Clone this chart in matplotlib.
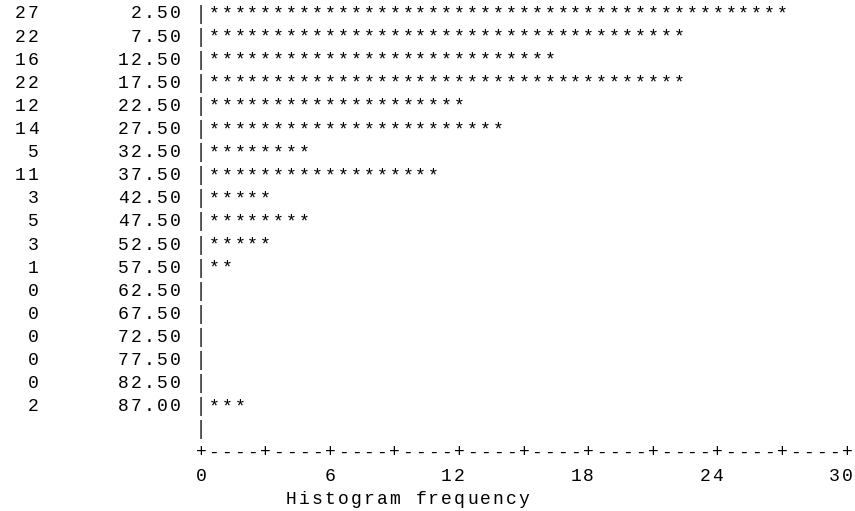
import matplotlib
matplotlib.use("Agg")
import matplotlib.pyplot as plt

# line-printer style histogram
counts = [27, 22, 16, 22, 12, 14, 5, 11, 3, 5, 3, 1, 0, 0, 0, 0, 0, 2]
midpoints = [2.50, 7.50, 12.50, 17.50, 22.50, 27.50, 32.50, 37.50, 42.50,
             47.50, 52.50, 57.50, 62.50, 67.50, 72.50, 77.50, 82.50, 87.00]
ticks = [0, 6, 12, 18, 24, 30]
xlabel = "Histogram frequency"

chars_per_unit = 5 / 3      # "+----" = 3 units
bar_col = 14                # column of the "|" axis
col_px = 12.92              # character pitch in pixels
row_px = 23.1               # line pitch in pixels
x0_px, y0_px = 201, 14      # pixel position of the bar column / first row

W, H = 855, 511
fig = plt.figure(figsize=(W / 100, H / 100), dpi=100)
ax = fig.add_axes([0, 0, 1, 1])
ax.set_xlim(bar_col - x0_px / col_px, bar_col + (W - x0_px) / col_px)
ax.set_ylim(-y0_px / row_px + (H / row_px), -y0_px / row_px)
ax.axis("off")

font = dict(family="Liberation Mono", fontsize=13, color="black",
            ha="center", va="center")


def put(line, row, start=0):
    for i, ch in enumerate(line):
        if ch == " ":
            continue
        if ch == "|":
            ax.text(start + i, row, ch, **{**font, "fontsize": 14.5,
                                          "color": "#333333"})
        else:
            ax.text(start + i, row, ch, **font)


for r, (n, m) in enumerate(zip(counts, midpoints)):
    stars = "*" * round(n * chars_per_unit)
    put(f"{n:>2}{m:>11.2f} |{stars}", r)

nrows = len(counts)
put("|", nrows, bar_col)
put("+" + "----+" * (len(ticks) * 2 - 2), nrows + 1, bar_col)
for t in ticks:
    lab = str(t)
    end = bar_col + round(t * chars_per_unit)
    put(lab, nrows + 2, end - len(lab) + 1)
put(xlabel, nrows + 3, 21)

fig.savefig("out.png", dpi=100)
